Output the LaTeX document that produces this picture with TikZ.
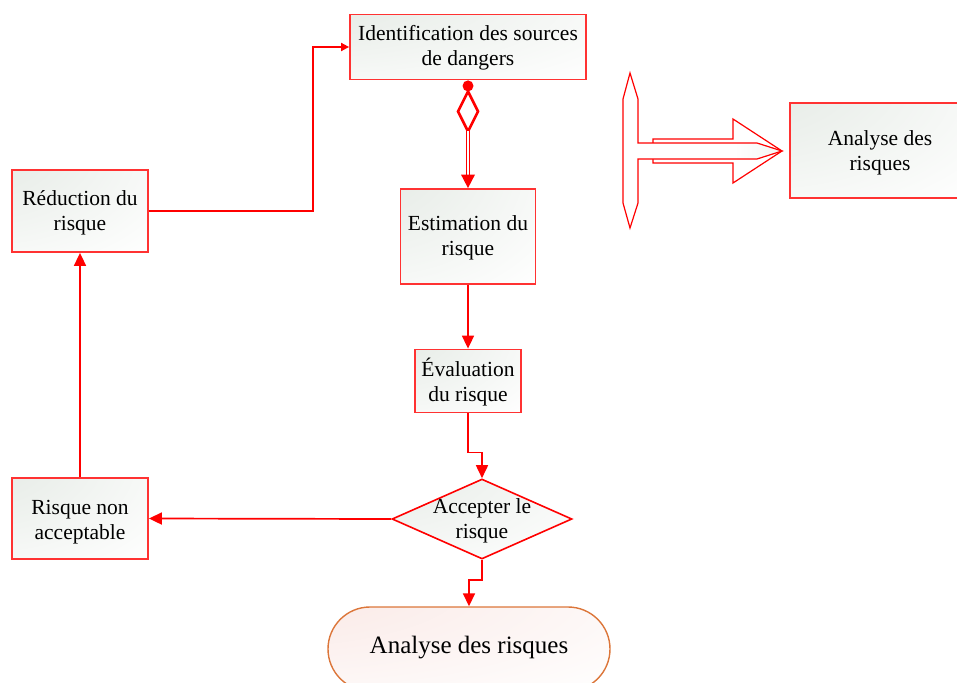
\documentclass[tikz,border=0pt]{standalone}
\usepackage{fontspec}
\setmainfont{Liberation Serif}
\usetikzlibrary{shapes.geometric,calc,arrows.meta}
\definecolor{edgered}{RGB}{255,50,50}
\definecolor{tint}{RGB}{222,229,222}
\definecolor{termedge}{RGB}{220,118,58}
\definecolor{termtint}{RGB}{248,226,222}
% soft glow from the upper left corner of a shape
\pgfdeclareradialshading{boxglow}{\pgfpoint{-50bp}{50bp}}{color(0bp)=(tint); color(75bp)=(white); color(160bp)=(white)}
\pgfdeclareradialshading{termglow}{\pgfpoint{-50bp}{50bp}}{color(0bp)=(termtint); color(75bp)=(white); color(160bp)=(white)}
\pgfdeclarehorizontalshading{shaftglow}{100bp}{color(0bp)=(white); color(60bp)=(white); color(100bp)=(tint)}
% two centred lines; the baseline of the box is that of the first line
\newcommand{\twolines}[2]{\begin{tabular}[t]{@{}c@{}}#1\\#2\end{tabular}}
\begin{document}
\begin{tikzpicture}[x=1pt,y=-1pt,
  lbl/.style={inner sep=0pt, anchor=base, font=\fontsize{21.5}{25}\selectfont},
  box/.style={draw=edgered, line width=1.8pt, inner sep=0pt, shading=boxglow},
  decision/.style={diamond, draw=red, line width=1.6pt, inner sep=0pt, shading=boxglow},
  terminal/.style={align=center, inner sep=0pt, font=\fontsize{25}{29}\selectfont, text height=14pt, text depth=6pt,
    draw=termedge, line width=1.4pt, rounded corners=42pt, shading=termglow},
  conn/.style={draw=red, line width=1.7pt},
  tip/.style={-{Triangle[width=12pt,length=13pt]}},
  smalltip/.style={-{Triangle[width=8pt,length=8pt]}},
  outline/.style={draw=red, line width=1.2pt}
]
\useasboundingbox (0,0) rectangle (957,682);
\clip (0,0) rectangle (957,682);

% process boxes
\node[box, minimum width=236pt, minimum height=65pt] (ident) at (468,47) {};
\node[box, minimum width=135pt, minimum height=95pt] (estim) at (468,236.5) {};
\node[box, minimum width=106pt, minimum height=63pt] (eval) at (468,381) {};
\node[decision, minimum width=180pt, minimum height=80pt] (acc) at (482,519) {};
\node[box, minimum width=136pt, minimum height=81pt] (riskn) at (80,518.5) {};
\node[box, minimum width=136pt, minimum height=82pt] (redu) at (80,211) {};
\node[terminal, minimum width=282pt, minimum height=84pt] (term) at (469,649) {Analyse des risques};
\node[box, minimum width=180pt, minimum height=95pt] (analy) at (880,150.5) {};

% their texts, placed by the baseline of the first line
\node[lbl] (identtext) at ($(ident.center)+(0,-6)$) {\twolines{Identification des sources}{de dangers}};
\node[lbl] (estimtext) at ($(estim.center)+(0,-6)$) {\twolines{Estimation du}{risque}};
\node[lbl] (evaltext) at ($(eval.center)+(0,-4.7)$) {\twolines{Évaluation}{du risque}};
\node[lbl] (acctext) at ($(acc.center)+(0,-6)$) {\twolines{Accepter le}{risque}};
\node[lbl] (riskntext) at ($(riskn.center)+(0,-4.5)$) {\twolines{Risque non}{acceptable}};
\node[lbl] (redutext) at ($(redu.center)+(0,-6)$) {\twolines{Réduction du}{risque}};
\node[lbl] (analytext) at ($(analy.center)+(0,-5.5)$) {\twolines{Analyse des}{risques}};

% block arrow (behind)
\path[outline, fill=white] (653,139) -- (733,139) -- (733,119) -- (782,151) -- (733,183) -- (733,163) -- (653,163) -- cycle;
% bar with pointed ends and shaft
\path[outline, shading=shaftglow]
  (630,73) -- (638,99) -- (638,143) -- (757,143) -- (782,151) -- (757,159) -- (638,159)
  -- (638,203) -- (630,228) -- (623,203) -- (623,99) -- cycle;

% identification -> estimation: dot, open diamond, double shaft
\fill[red] ($(ident.south)+(0,5.5)$) circle (5.5pt);
\draw[red, line width=2.6pt, fill=white, line join=miter]
  ($(ident.south)+(0,11)$) -- ++(10,20) -- ++(-10,20) -- ++(-10,-20) -- cycle;
\draw[red, line width=1pt, double=white, double distance=2.4pt]
  ($(ident.south)+(0,51)$) -- ($(estim.north)+(0,-12)$);
\fill[red] ($(estim.north)+(-7,-13.5)$) -- (estim.north) -- ($(estim.north)+(7,-13.5)$) -- cycle;

% remaining connectors
\draw[conn, tip] (estim.south) -- (eval.north);
\draw[conn, tip] (eval.south) -- ++(0,39) -| (acc.north);
\draw[conn, tip] (acc.south) -- ++(0,20) -| (term.north);
\draw[conn, tip] (acc.west) -- (riskn.east);
\draw[conn, tip] (riskn.north) -- (redu.south);
\draw[conn, smalltip] (redu.east) -- ++(164,0) |- (ident.west);
\end{tikzpicture}
\end{document}
